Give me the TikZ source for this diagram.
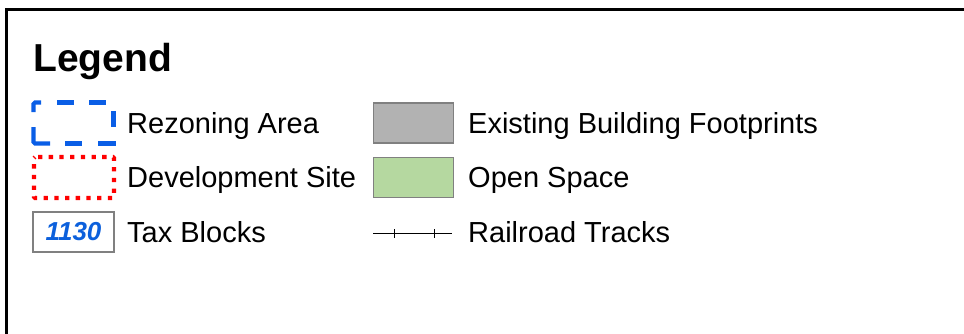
\documentclass[tikz,border=0pt]{standalone}
\usepackage{fontspec}
\setmainfont{Liberation Sans}
\definecolor{rzblue}{RGB}{10,94,230}
\definecolor{taxblue}{RGB}{12,96,220}
\definecolor{bldgray}{RGB}{178,178,178}
\definecolor{edgegray}{RGB}{128,128,128}
\definecolor{opengreen}{RGB}{181,216,160}
\tikzset{
  lbl/.style={anchor=base west, inner sep=0pt, font=\fontsize{29}{29}\selectfont},
  swatch/.style={draw=edgegray, line width=1.2pt, minimum width=80pt, minimum height=40pt, inner sep=0pt},
  rezone/.style={draw=rzblue, line width=4.2pt, line cap=butt, rounded corners=1.5pt},
  devsite/.style={draw=red, line width=4.2pt, dash pattern=on 4.3pt off 6.4pt, dash phase=7.7pt, rounded corners=1pt},
  taxbox/.style={draw=edgegray, line width=1.2pt, minimum width=81pt, minimum height=40pt, inner sep=0pt, text=taxblue, font=\fontsize{26}{26}\selectfont\bfseries\itshape},
  rail/.style={line width=1pt, black}
}
\begin{document}
\begin{tikzpicture}[x=1pt,y=-1pt]
\useasboundingbox (0,0) rectangle (964,333);
\clip (0,0) rectangle (964,333);
\draw[line width=3pt] (6.5,9) rectangle (1100,500);
\node[anchor=base west, inner sep=0pt, font=\fontsize{39}{39}\selectfont\bfseries] (title) at (33,71.7) {Legend};
% left column: rezoning area (dashed outline)
\draw[rezone] (33.5,112) -- (33.5,102.5) -- (41,102.5);
\draw[rezone] (57,102.5) -- (74,102.5);
\draw[rezone] (89,102.5) -- (106,102.5);
\draw[rezone] (113.5,111) -- (113.5,127);
\draw[rezone] (98,143.5) -- (115.5,143.5);
\draw[rezone] (65,143.5) -- (82,143.5);
\draw[rezone] (33.5,127) -- (33.5,143.5) -- (50,143.5);
% development site (dotted outline)
\draw[devsite] (34,157) -- (114,157) -- (114,198) -- (34,198) -- cycle;
\node[taxbox] (tb) at (73.5,232) {1130};
\node[lbl] (rzl) at (127,133) {Rezoning Area};
\node[lbl] (dsl) at (127,187) {Development Site};
\node[lbl] (tbl) at (127,242) {Tax Blocks};
% right column
\node[swatch, fill=bldgray] (bf) at (413.5,123) {};
\node[swatch, fill=opengreen] (os) at (413.5,177.5) {};
\coordinate (r0) at (373,233);
\coordinate (r1) at (452,233);
\coordinate (t1) at (394,233);
\coordinate (t2) at (434,233);
\draw[rail] (r0) -- (r1);
\draw[rail] ([yshift=-4.5pt]t1) -- ([yshift=4.5pt]t1);
\draw[rail] ([yshift=-4.5pt]t2) -- ([yshift=4.5pt]t2);
\node[lbl] (bfl) at (468,133) {Existing Building Footprints};
\node[lbl] (osl) at (468,187) {Open Space};
\node[lbl] (rrl) at (468,242) {Railroad Tracks};
\end{tikzpicture}
\end{document}
